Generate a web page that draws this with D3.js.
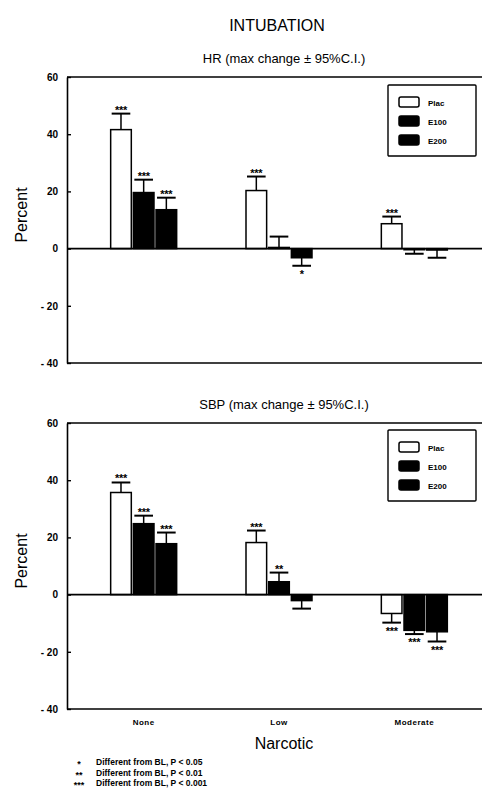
<!DOCTYPE html>
<html>
<head>
<meta charset="utf-8">
<script src="https://cdn.jsdelivr.net/npm/d3@7"></script>
<style>
  body { margin: 0; background: #fff; }
  svg { display: block; font-family: "Liberation Sans", Arial, sans-serif; }
  .tick text { font-weight: bold; font-size: 10px; }
</style>
</head>
<body>
<div id="chart"></div>
<script>
var categories = ["None", "Low", "Moderate"];
var series = ["Plac", "E100", "E200"];
var yTicks = [60, 40, 20, 0, -20, -40];

// HR panel: mean max change, end of 95% C.I. bar, significance marks
var hrMean = [[41.6, 19.6, 13.6], [20.3, 0.4, -3.2], [8.7, -0.4, -0.5]];
var hrCI   = [[47.2, 24.1, 17.8], [25.2, 4.2, -6.0], [11.2, -1.8, -3.2]];
var hrSig  = [["***", "***", "***"], ["***", "", "*"], ["***", "", ""]];

// SBP panel
var sbpMean = [[35.7, 24.8, 17.8], [18.2, 4.5, -2.1], [-6.6, -12.5, -13.0]];
var sbpCI   = [[39.2, 27.6, 21.7], [22.4, 7.7, -4.9], [-9.8, -13.8, -16.4]];
var sbpSig  = [["***", "***", "***"], ["***", "**", ""], ["***", "***", "***"]];

var footnotes = [["*", "Different from BL, P < 0.05"],
                 ["**", "Different from BL, P < 0.01"],
                 ["***", "Different from BL, P < 0.001"]];

var W = 482, H = 791;
var left = 67, right = 482;

var svg = d3.select("#chart").append("svg")
  .attr("width", W)
  .attr("height", H);

var x = d3.scaleBand().domain(categories).range([76, 482]);
var xs = d3.scaleBand().domain(series)
  .range([x.bandwidth() / 2 - 33, x.bandwidth() / 2 + 33])
  .paddingInner(0.09);

var fills = { "Plac": "#fff", "E100": "#000", "E200": "#000" };

svg.append("text")
  .attr("x", 277).attr("y", 31)
  .attr("text-anchor", "middle")
  .style("font-size", "16px")
  .text("INTUBATION");

function panel(title, titleY, top, bottom, mean, ci, sig, legendY) {
  var y = d3.scaleLinear().domain([-40, 60]).range([bottom, top]);
  var g = svg.append("g");

  g.append("text")
    .attr("x", 284).attr("y", titleY)
    .attr("text-anchor", "middle")
    .style("font-size", "13px")
    .text(title);

  // frame lines (top and bottom run to the page edge)
  g.append("line").attr("x1", left).attr("x2", right)
    .attr("y1", y(60)).attr("y2", y(60))
    .attr("stroke", "#000").attr("stroke-width", 1.4);
  g.append("line").attr("x1", left).attr("x2", right)
    .attr("y1", y(-40)).attr("y2", y(-40))
    .attr("stroke", "#000").attr("stroke-width", 1.4);

  var yAxis = d3.axisLeft(y).tickValues(yTicks).tickSizeInner(-4).tickSizeOuter(0).tickPadding(9);
  var ax = g.append("g")
    .attr("transform", "translate(" + left + ",0)")
    .call(yAxis);
  ax.select(".domain").attr("stroke-width", 1.6);
  ax.selectAll(".tick line").attr("stroke-width", 1.4);
  ax.selectAll(".tick text").text(function(d) { return d < 0 ? "- " + Math.abs(d) : d; });

  g.append("text")
    .attr("transform", "translate(27," + ((y(60) + y(-40)) / 2 - 5) + ") rotate(-90)")
    .attr("text-anchor", "middle")
    .style("font-size", "16px")
    .text("Percent");

  var rows = [];
  categories.forEach(function(c, i) {
    series.forEach(function(s, j) {
      rows.push({ cat: c, ser: s, v: mean[i][j], e: ci[i][j], sig: sig[i][j] });
    });
  });

  var bx = function(d) { return x(d.cat) + xs(d.ser); };
  var bw = xs.bandwidth();

  // error bars
  g.selectAll(".stem").data(rows).enter().append("line")
    .attr("x1", function(d) { return bx(d) + bw / 2; })
    .attr("x2", function(d) { return bx(d) + bw / 2; })
    .attr("y1", function(d) { return y(d.v); })
    .attr("y2", function(d) { return y(d.e); })
    .attr("stroke", "#000").attr("stroke-width", 1.5);
  g.selectAll(".cap").data(rows).enter().append("line")
    .attr("x1", function(d) { return bx(d) + 1; })
    .attr("x2", function(d) { return bx(d) + bw - 1; })
    .attr("y1", function(d) { return y(d.e); })
    .attr("y2", function(d) { return y(d.e); })
    .attr("stroke", "#000").attr("stroke-width", 2);

  g.selectAll(".bar").data(rows).enter().append("rect")
    .attr("x", bx)
    .attr("width", bw)
    .attr("y", function(d) { return y(Math.max(0, d.v)); })
    .attr("height", function(d) { return Math.abs(y(d.v) - y(0)); })
    .attr("fill", function(d) { return fills[d.ser]; })
    .attr("stroke", "#000").attr("stroke-width", 1.5);

  // zero line
  g.append("line").attr("x1", left).attr("x2", right)
    .attr("y1", y(0)).attr("y2", y(0))
    .attr("stroke", "#000").attr("stroke-width", 1.6);

  g.selectAll(".sig").data(rows.filter(function(d) { return d.sig; })).enter().append("text")
    .attr("x", function(d) { return bx(d) + bw / 2; })
    .attr("y", function(d) { return d.e >= 0 ? y(d.e) : y(d.e) + 12; })
    .attr("text-anchor", "middle")
    .style("font-size", "11px")
    .style("font-weight", "bold")
    .style("letter-spacing", "-0.3px")
    .text(function(d) { return d.sig; });

  // legend
  var lg = g.append("g").attr("transform", "translate(388," + legendY + ")");
  lg.append("rect").attr("width", 88).attr("height", 71)
    .attr("fill", "#fff").attr("stroke", "#000").attr("stroke-width", 1.4).attr("rx", 1);
  var item = lg.selectAll(".item").data(series).enter().append("g")
    .attr("transform", function(d, i) { return "translate(11," + (12 + i * 19) + ")"; });
  item.append("rect").attr("width", 20).attr("height", 10).attr("rx", 2)
    .attr("fill", function(d) { return fills[d]; })
    .attr("stroke", "#000").attr("stroke-width", 1.5);
  item.append("text").attr("x", 29).attr("y", 8.5)
    .style("font-size", "8px").style("font-weight", "bold")
    .text(function(d) { return d; });

  return y;
}

panel("HR (max change \u00b1 95%C.I.)", 63, 77, 363, hrMean, hrCI, hrSig, 85);
panel("SBP (max change \u00b1 95%C.I.)", 409, 423, 709, sbpMean, sbpCI, sbpSig, 430);

var xAxis = d3.axisBottom(x).tickSize(0).tickPadding(10);
var xg = svg.append("g").attr("transform", "translate(0,709)").call(xAxis);
xg.select(".domain").remove();
xg.selectAll(".tick text").style("font-size", "8px").style("letter-spacing", "0.5px");

svg.append("text")
  .attr("x", 284).attr("y", 749)
  .attr("text-anchor", "middle")
  .style("font-size", "16px")
  .text("Narcotic");

var fn = svg.selectAll(".fn").data(footnotes).enter().append("g")
  .attr("transform", function(d, i) { return "translate(0," + (765 + i * 10.5) + ")"; });
fn.append("text").attr("x", 79).attr("y", 2)
  .attr("text-anchor", "middle")
  .style("font-size", "9px").style("font-weight", "bold")
  .text(function(d) { return d[0]; });
fn.append("text").attr("x", 96).attr("y", 0)
  .style("font-size", "8.5px").style("font-weight", "bold")
  .text(function(d) { return d[1]; });
</script>
</body>
</html>
